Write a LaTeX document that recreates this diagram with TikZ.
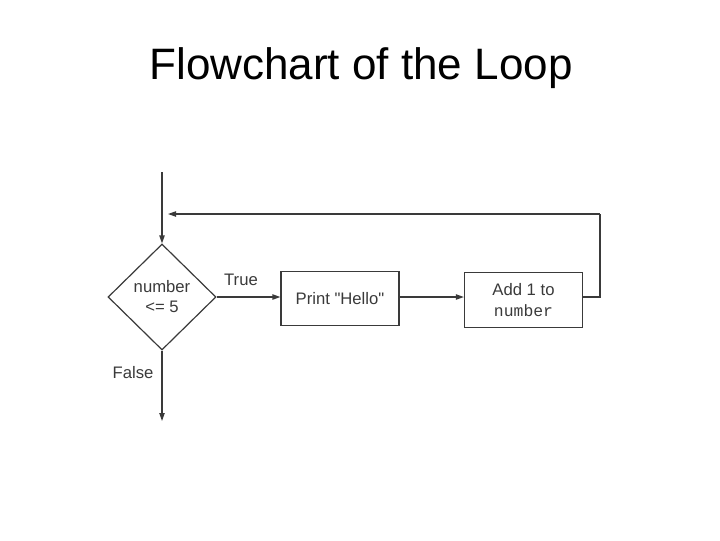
\documentclass[tikz,border=0pt]{standalone}
\usepackage{fontspec}
\setmainfont{Liberation Sans}
\newfontfamily\monofnt{Liberation Mono}
\newfontfamily\plainfnt{Liberation Sans}[Ligatures=TeXOff]
\usetikzlibrary{shapes.geometric,arrows.meta}
\definecolor{ink}{HTML}{3A3A3A}
\begin{document}
\begin{tikzpicture}[x=0.75pt,y=-0.75pt,
  line/.style={draw=ink,line width=0.9pt},
  arr/.style={line,-{Triangle[length=6pt,width=4pt]}},
  procbox/.style={draw=ink,line width=0.9pt,minimum width=88.5pt,minimum height=41pt,inner sep=0pt,align=center,font=\fontsize{12.5pt}{15.5pt}\selectfont,text=ink},
  lbl/.style={font=\fontsize{12.5pt}{15pt}\selectfont,text=ink,inner sep=0pt}]
\useasboundingbox (0,0) rectangle (720,540);
\node[font=\fontsize{33pt}{38pt}\selectfont] (title) at (361,68) {Flowchart of the Loop};
\node[diamond,draw=ink,line width=0.9pt,minimum width=81pt,minimum height=79.5pt,inner sep=0pt,aspect=1.02] (dec) at (162,297) {};
\node[lbl,align=center] (dectxt) at (162,297) {number\\<= 5};
\node[procbox] (print) at (340,298.5) {{\plainfnt Print "Hello"}};
\node[procbox] (add) at (523.5,300) {Add 1 to\\{\monofnt\fontsize{12.3pt}{15.5pt}\selectfont number}};
\coordinate (start) at (162,172);
\coordinate (fb1) at (600,297);
\coordinate (fb2) at (600,214);
\coordinate (fb3) at (168,214);
\coordinate (endf) at (162,421);
\draw[arr] (start) -- (dec.north);
\draw[arr] (dec.east) -- (print.west |- dec.east);
\draw[arr] (print.east |- dec.east) -- (add.west |- dec.east);
\draw[line] (add.east |- dec.east) -- (fb1) -- (fb2);
\draw[arr] (fb2) -- (fb3);
\draw[arr] (dec.south) -- (endf);
\node[lbl] (truelbl) at (241,280) {True};
\node[lbl] (falselbl) at (133,373) {False};
\end{tikzpicture}
\end{document}
